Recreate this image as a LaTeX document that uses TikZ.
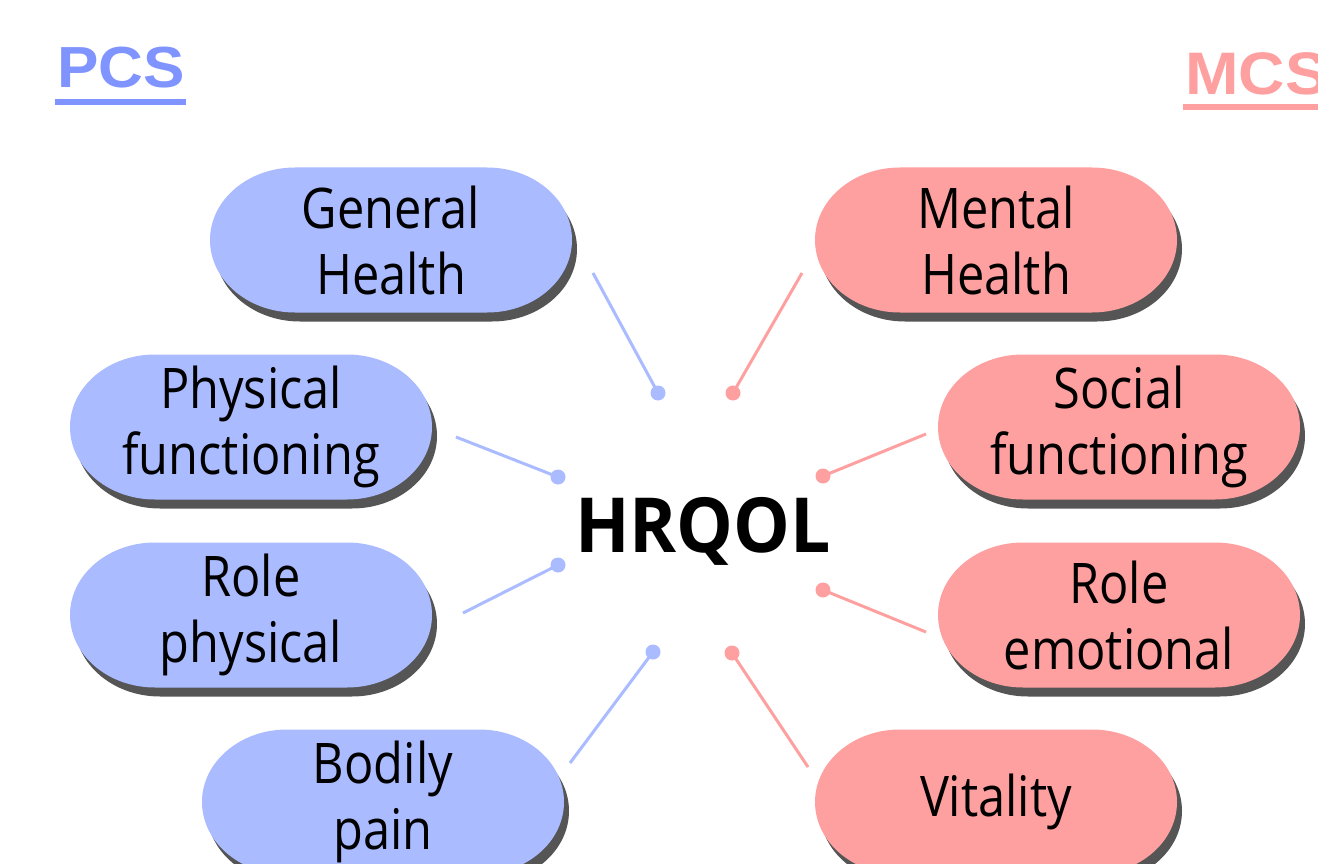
\documentclass[tikz,border=0pt]{standalone}
\usepackage{fontspec}
\setmainfont{Open Sans}
\newfontfamily\pillfont[FakeStretch=0.87]{Open Sans}
\newfontfamily\centerfont[FakeStretch=0.94]{Open Sans}
\newfontfamily\headfont[FakeStretch=1.07]{Liberation Sans}
\definecolor{pblue}{RGB}{170,187,255}
\definecolor{pred}{RGB}{255,160,160}
\definecolor{hblue}{RGB}{128,148,255}
\definecolor{hred}{RGB}{255,160,160}
\definecolor{shadowgray}{RGB}{85,85,85}
\tikzset{
  pilltext/.style={align=center, font=\pillfont\fontsize{56}{66}\selectfont, inner sep=0pt, minimum width=362pt, minimum height=145pt},
  link/.style={line width=3pt},
  enddot/.style={circle, inner sep=0pt, minimum size=15pt, fill=#1},
  headtext/.style={anchor=base west, inner sep=0pt, font=\headfont\bfseries\fontsize{58}{60}\selectfont},
}
\newcommand\mypill[5]{%
  \begin{scope}[shift={(#2,#3)}]
    \fill[shadowgray, shift={(5,9)}] (-96,-72.5) -- (96,-72.5) arc[start angle=-90,end angle=90,x radius=85,y radius=72.5] -- (-96,72.5) arc[start angle=90,end angle=270,x radius=85,y radius=72.5] -- cycle;
    \fill[#4] (-96,-72.5) -- (96,-72.5) arc[start angle=-90,end angle=90,x radius=85,y radius=72.5] -- (-96,72.5) arc[start angle=90,end angle=270,x radius=85,y radius=72.5] -- cycle;
  \end{scope}
  \node[pilltext] (#1) at (#2,#3) {#5};
}
\begin{document}
\begin{tikzpicture}[x=1pt,y=-1pt]
\fill[white] (0,0) rectangle (1318,864);
\useasboundingbox (0,0) rectangle (1318,864);

% headings
\node[headtext, text=hblue] (pcs) at (57,88) {PCS};
\draw[hblue, line width=6pt] ([xshift=-2pt,yshift=-14pt]pcs.base west) -- ([xshift=1pt,yshift=-14pt]pcs.base east);
\node[headtext, text=hred, font=\headfont\bfseries\fontsize{60}{62}\selectfont] (mcs) at (1185,95) {MCS};
\draw[hred, line width=6pt] ([xshift=-2pt,yshift=-12pt]mcs.base west) -- ([xshift=1pt,yshift=-12pt]mcs.base east);

% pills
\mypill{gh}{391}{240}{pblue}{General\\Health}
\mypill{pf}{251}{427}{pblue}{Physical\\functioning}
\mypill{rp}{251}{615}{pblue}{Role\\physical}
\mypill{bp}{383}{802}{pblue}{Bodily\\pain}
\mypill{mh}{996}{240}{pred}{Mental\\Health}
\mypill{sf}{1119}{427}{pred}{Social\\functioning}
\mypill{re}{1119}{615}{pred}{Role\\emotional}
\mypill{vi}{996}{802}{pred}{Vitality}

% centre
\node[font=\centerfont\bfseries\fontsize{76}{80}\selectfont, anchor=base, inner sep=0pt] (hrqol) at (703,552) {HRQOL};

% connectors
\coordinate (cgh) at (593,273);
\coordinate (cpf) at (456,437);
\coordinate (crp) at (463,613);
\coordinate (cbp) at (570,763);
\coordinate (cmh) at (802,273);
\coordinate (csf) at (926,434);
\coordinate (cre) at (926,632);
\coordinate (cvi) at (808,767);
\node[enddot=pblue] (dgh) at (658,393) {};
\node[enddot=pblue] (dpf) at (558,477) {};
\node[enddot=pblue] (drp) at (558,565) {};
\node[enddot=pblue] (dbp) at (653,652) {};
\node[enddot=pred] (dmh) at (733,393) {};
\node[enddot=pred] (dsf) at (823,476) {};
\node[enddot=pred] (dre) at (823,590) {};
\node[enddot=pred] (dvi) at (732,653) {};
\draw[link, pblue] (cgh) -- (dgh.center);
\draw[link, pblue] (cpf) -- (dpf.center);
\draw[link, pblue] (crp) -- (drp.center);
\draw[link, pblue] (cbp) -- (dbp.center);
\draw[link, pred] (cmh) -- (dmh.center);
\draw[link, pred] (csf) -- (dsf.center);
\draw[link, pred] (cre) -- (dre.center);
\draw[link, pred] (cvi) -- (dvi.center);
\end{tikzpicture}
\end{document}
